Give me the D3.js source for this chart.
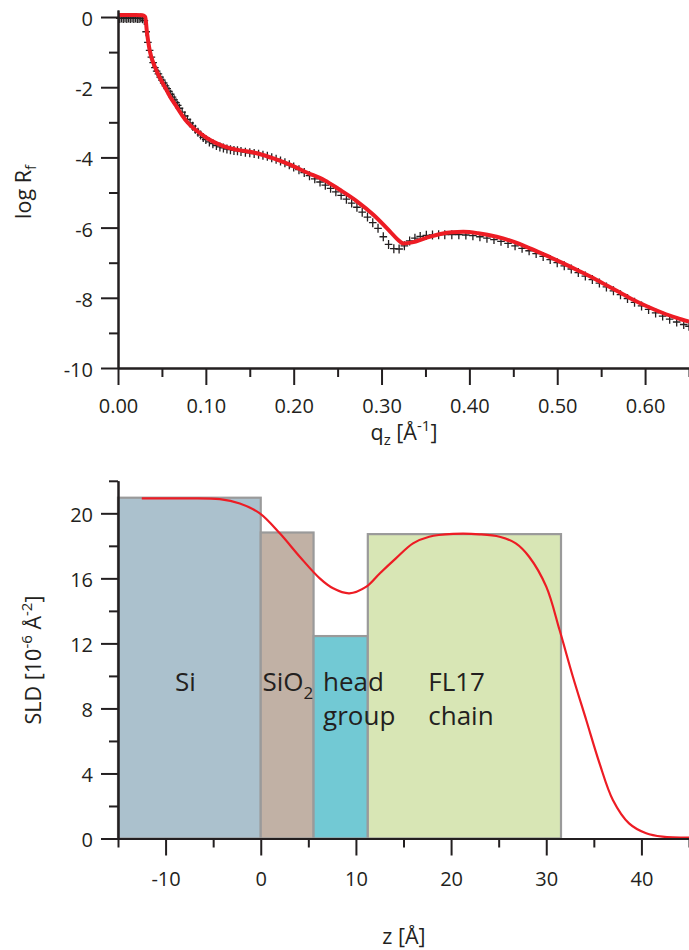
<!DOCTYPE html>
<html>
<head>
<meta charset="utf-8">
<script src="https://cdn.jsdelivr.net/npm/d3@7"></script>
<style>
  body { margin: 0; background: #fff; }
  svg { display: block; }
  text { font-family: "Open Sans", sans-serif; fill: #231f20; }
</style>
</head>
<body>
<script>
// ---- Reflectivity: measured points (q in 1/Å, log of Fresnel-normalised R) ----
const qMeas = [
  0.002, 0.004, 0.006, 0.008, 0.010, 0.012, 0.014, 0.016, 0.018, 0.020, 0.022, 0.024, 0.026, 0.028,
  0.030, 0.032, 0.034, 0.036, 0.038, 0.040, 0.042, 0.044, 0.046, 0.048, 0.050, 0.052, 0.054, 0.056,
  0.058, 0.060, 0.062, 0.064, 0.066, 0.068, 0.070, 0.073, 0.076, 0.079, 0.082, 0.085, 0.088, 0.091,
  0.094, 0.097, 0.100, 0.104, 0.108, 0.112, 0.116, 0.120, 0.124, 0.128, 0.132, 0.136, 0.140, 0.145,
  0.150, 0.155, 0.160, 0.165, 0.170, 0.175, 0.180, 0.185, 0.190, 0.195, 0.200, 0.206, 0.212, 0.218,
  0.224, 0.230, 0.236, 0.242, 0.248, 0.254, 0.260, 0.266, 0.272, 0.278, 0.284, 0.290, 0.296, 0.302,
  0.308, 0.314, 0.320, 0.326, 0.332, 0.338, 0.344, 0.351, 0.358, 0.365, 0.372, 0.380, 0.388, 0.396,
  0.404, 0.412, 0.420, 0.428, 0.436, 0.444, 0.452, 0.460, 0.468, 0.476, 0.484, 0.492, 0.500, 0.508,
  0.516, 0.524, 0.532, 0.540, 0.548, 0.556, 0.564, 0.572, 0.580, 0.588, 0.596, 0.604, 0.612, 0.620,
  0.628, 0.636, 0.644, 0.650
];
const logRMeas = [
  -0.04, -0.03, -0.04, -0.03, -0.04, -0.03, -0.04, -0.03, -0.04, -0.03, -0.04, -0.04, -0.03, -0.05,
  -0.10, -0.42, -0.72, -0.95, -1.14, -1.30, -1.44, -1.54, -1.62, -1.71, -1.80, -1.88, -1.96, -2.04,
  -2.12, -2.20, -2.28, -2.36, -2.44, -2.52, -2.60, -2.71, -2.82, -2.92, -3.02, -3.11, -3.20, -3.28,
  -3.36, -3.43, -3.49, -3.56, -3.61, -3.66, -3.70, -3.73, -3.76, -3.78, -3.80, -3.81, -3.83, -3.85,
  -3.87, -3.89, -3.91, -3.94, -3.97, -4.01, -4.05, -4.10, -4.15, -4.21, -4.27, -4.35, -4.43, -4.52,
  -4.61, -4.70, -4.79, -4.88, -4.98, -5.08, -5.19, -5.30, -5.42, -5.56, -5.70, -5.86, -6.02, -6.26,
  -6.48, -6.60, -6.61, -6.52, -6.38, -6.30, -6.25, -6.22, -6.21, -6.20, -6.20, -6.20, -6.20, -6.21,
  -6.23, -6.26, -6.30, -6.34, -6.39, -6.45, -6.52, -6.59, -6.66, -6.74, -6.82, -6.91, -7.00, -7.09,
  -7.18, -7.28, -7.38, -7.48, -7.58, -7.69, -7.80, -7.91, -8.02, -8.13, -8.23, -8.33, -8.43, -8.52,
  -8.61, -8.69, -8.76, -8.81
];

// ---- Reflectivity: model fit ----
const qFit = [
  0.000, 0.010, 0.020, 0.028, 0.031, 0.033, 0.036, 0.042, 0.048, 0.0535, 0.060, 0.0668, 0.073, 0.079,
  0.086, 0.0934, 0.102, 0.1124, 0.125, 0.139, 0.150, 0.165, 0.177, 0.195, 0.215, 0.235, 0.253, 0.272,
  0.291, 0.310, 0.318, 0.325, 0.335, 0.350, 0.367, 0.380, 0.393, 0.410, 0.431, 0.450, 0.469, 0.488,
  0.507, 0.526, 0.545, 0.564, 0.583, 0.602, 0.621, 0.636, 0.650
];
const logRFit = [
  0.06, 0.06, 0.06, 0.05, 0.00, -0.45, -0.94, -1.42, -1.75, -2.00, -2.30, -2.56, -2.80, -3.00,
  -3.17, -3.31, -3.46, -3.60, -3.72, -3.80, -3.84, -3.93, -4.03, -4.20, -4.43, -4.65, -4.93, -5.25,
  -5.64, -6.12, -6.33, -6.45, -6.42, -6.30, -6.18, -6.13, -6.12, -6.16, -6.26, -6.40, -6.59, -6.80,
  -7.02, -7.25, -7.49, -7.75, -8.01, -8.24, -8.44, -8.57, -8.68
];

const qMajorTicks = [0, 0.1, 0.2, 0.3, 0.4, 0.5, 0.6];
const qMinorTicks = [0.05, 0.15, 0.25, 0.35, 0.45, 0.55, 0.65];
const logRMajorTicks = [0, -2, -4, -6, -8, -10];
const logRMinorTicks = [-1, -3, -5, -7, -9];

// ---- Scattering length density profile ----
const layerNames = ["Si", "SiO2", "head group", "FL17 chain"];
const layerZStart = [-15, 0, 5.55, 11.25];
const layerZEnd = [0, 5.55, 11.25, 31.55];
const layerSLD = [20.96, 18.82, 12.45, 18.72];

const zProfile = [
  -12.5, -8.0, -4.3, -2.2, -0.1, 2.0, 4.1, 6.2, 7.6, 9.3, 11.1, 12.5, 14.2, 16.0, 17.7,
  20.2, 23.0, 25.1, 26.8, 28.2, 30.0, 31.4, 32.8, 34.2, 35.6, 37.0, 38.7, 40.5, 42.2, 45.0
];
const sldProfile = [
  20.92, 20.92, 20.87, 20.60, 20.00, 18.77, 17.33, 16.00, 15.39, 15.08, 15.49, 16.30, 17.23, 18.15, 18.56,
  18.73, 18.71, 18.56, 18.15, 17.33, 15.49, 12.82, 9.95, 7.29, 4.62, 2.37, 0.93, 0.32, 0.11, 0.05
];

const zMajorTicks = [-10, 0, 10, 20, 30, 40];
const zMinorTicks = [-15, -5, 5, 15, 25, 35, 45];
const sldMajorTicks = [0, 4, 8, 12, 16, 20];
const sldMinorTicks = [2, 6, 10, 14, 18, 22];

// ---- appearance ----
const ink = "#231f20";
const fitRed = "#ed1c24";
const layerFill = ["#abc1cd", "#c1b1a5", "#72c9d4", "#d8e6b5"];
const tickFont = 20;
const titleFont = 21.5;
const scriptFont = 15;

const svg = d3.select("body").append("svg").attr("width", 689).attr("height", 950);

function styleAxis(g) {
  g.selectAll("path.domain").attr("stroke", ink).attr("stroke-width", 2);
  g.selectAll(".tick line").attr("stroke", ink).attr("stroke-width", 2);
  g.selectAll(".tick text").attr("font-size", tickFont).attr("fill", ink)
    .attr("font-family", "'Open Sans', sans-serif");
}

// ================= upper panel: reflectivity =================
const xq = d3.scaleLinear().domain([0, 0.65]).range([118, 689]);
const yR = d3.scaleLinear().domain([-10, 0.2]).range([368, 10]);

const reflPanel = svg.append("g");

// measured points as "+" markers
reflPanel.append("g").selectAll("path").data(qMeas.map((q, i) => [q, logRMeas[i]]))
  .join("path")
  .attr("transform", d => `translate(${xq(d[0])},${yR(d[1])})`)
  .attr("d", "M-3.8,0H3.8M0,-4.5V4.5")
  .attr("stroke", ink).attr("stroke-width", 1.3).attr("fill", "none");

// fit
reflPanel.append("path")
  .datum(qFit.map((q, i) => [q, logRFit[i]]))
  .attr("d", d3.line().x(d => xq(d[0])).y(d => yR(d[1])).curve(d3.curveMonotoneX))
  .attr("fill", "none").attr("stroke", fitRed).attr("stroke-width", 4)
  .attr("stroke-linejoin", "round");

// axes
const reflX = reflPanel.append("g").attr("transform", `translate(0,${yR(-10)})`);
reflX.call(d3.axisBottom(xq).tickValues(qMinorTicks).tickSize(9).tickSizeOuter(0).tickFormat(""));
reflX.append("g").call(d3.axisBottom(xq).tickValues(qMajorTicks).tickSize(17).tickSizeOuter(0)
  .tickPadding(14).tickFormat(d3.format(".2f")));
styleAxis(reflX);

const reflY = reflPanel.append("g").attr("transform", `translate(${xq(0)},0)`);
reflY.call(d3.axisLeft(yR).tickValues(logRMinorTicks).tickSize(9).tickSizeOuter(0).tickFormat(""));
reflY.append("g").call(d3.axisLeft(yR).tickValues(logRMajorTicks).tickSize(17).tickSizeOuter(0)
  .tickPadding(8).tickFormat(d => String(d)));
styleAxis(reflY);
reflY.selectAll(".tick text").attr("dy", "0.42em");

// axis titles
const qTitle = reflPanel.append("text").attr("x", 404).attr("y", 440)
  .attr("text-anchor", "middle").attr("font-size", titleFont);
qTitle.append("tspan").text("q");
qTitle.append("tspan").attr("font-size", scriptFont).attr("dy", 5).text("z");
qTitle.append("tspan").attr("dy", -5).text(" [Å");
qTitle.append("tspan").attr("font-size", scriptFont).attr("dy", -9).text("-1");
qTitle.append("tspan").attr("dy", 9).text("]");

const rTitle = reflPanel.append("text").attr("transform", "translate(31,192) rotate(-90)")
  .attr("text-anchor", "middle").attr("font-size", titleFont);
rTitle.append("tspan").text("log R");
rTitle.append("tspan").attr("font-size", scriptFont).attr("dy", 5).text("f");

// ================= lower panel: SLD profile =================
const xz = d3.scaleLinear().domain([-15, 45]).range([118, 689]);
const ys = d3.scaleLinear().domain([0, 22]).range([838.5, 480.8]);

const sldPanel = svg.append("g");

sldPanel.append("g").selectAll("rect").data(layerNames.map((n, i) => i))
  .join("rect")
  .attr("x", i => xz(layerZStart[i]))
  .attr("y", i => ys(layerSLD[i]))
  .attr("width", i => xz(layerZEnd[i]) - xz(layerZStart[i]))
  .attr("height", i => ys(0) - ys(layerSLD[i]))
  .attr("fill", i => layerFill[i])
  .attr("stroke", "#9a9a9a").attr("stroke-width", 2.2);

// layer labels (z, SLD anchor of each label's first baseline)
const labelAnchor = [[-9.0, 9.07], [0.18, 9.07], [6.55, 9.07], [17.6, 9.07]];
const lineGap = 34;
layerNames.forEach((name, i) => {
  const t = sldPanel.append("text").attr("x", xz(labelAnchor[i][0])).attr("y", ys(labelAnchor[i][1]))
    .attr("font-size", 26);
  if (name === "SiO2") {
    t.append("tspan").text("SiO");
    t.append("tspan").attr("font-size", 17).attr("dy", 8).text("2");
  } else {
    const words = name.split(" ");
    words.forEach((w, k) => {
      t.append("tspan").attr("x", xz(labelAnchor[i][0])).attr("dy", k === 0 ? 0 : lineGap).text(w);
    });
  }
});

// smoothed SLD profile
sldPanel.append("path")
  .datum(zProfile.map((z, i) => [z, sldProfile[i]]))
  .attr("d", d3.line().x(d => xz(d[0])).y(d => ys(d[1])).curve(d3.curveCatmullRom.alpha(0.5)))
  .attr("fill", "none").attr("stroke", fitRed).attr("stroke-width", 2.2);

const sldX = sldPanel.append("g").attr("transform", `translate(0,${ys(0)})`);
sldX.call(d3.axisBottom(xz).tickValues(zMinorTicks).tickSize(9).tickSizeOuter(0).tickFormat(""));
sldX.append("g").call(d3.axisBottom(xz).tickValues(zMajorTicks).tickSize(17).tickSizeOuter(0)
  .tickPadding(16).tickFormat(d => String(d)));
styleAxis(sldX);

const sldY = sldPanel.append("g").attr("transform", `translate(${xz(-15)},0)`);
sldY.call(d3.axisLeft(ys).tickValues(sldMinorTicks).tickSize(9).tickSizeOuter(0).tickFormat(""));
sldY.append("g").call(d3.axisLeft(ys).tickValues(sldMajorTicks).tickSize(17).tickSizeOuter(0)
  .tickPadding(8).tickFormat(d => String(d)));
styleAxis(sldY);
sldY.selectAll(".tick text").attr("dy", "0.42em");

sldPanel.append("text").attr("x", 404).attr("y", 944)
  .attr("text-anchor", "middle").attr("font-size", titleFont).text("z [Å]");

const sTitle = sldPanel.append("text").attr("transform", "translate(41,660) rotate(-90)")
  .attr("text-anchor", "middle").attr("font-size", titleFont);
sTitle.append("tspan").text("SLD [10");
sTitle.append("tspan").attr("font-size", scriptFont).attr("dy", -9).text("-6");
sTitle.append("tspan").attr("dy", 9).text(" Å");
sTitle.append("tspan").attr("font-size", scriptFont).attr("dy", -9).text("-2");
sTitle.append("tspan").attr("dy", 9).text("]");
</script>
</body>
</html>
